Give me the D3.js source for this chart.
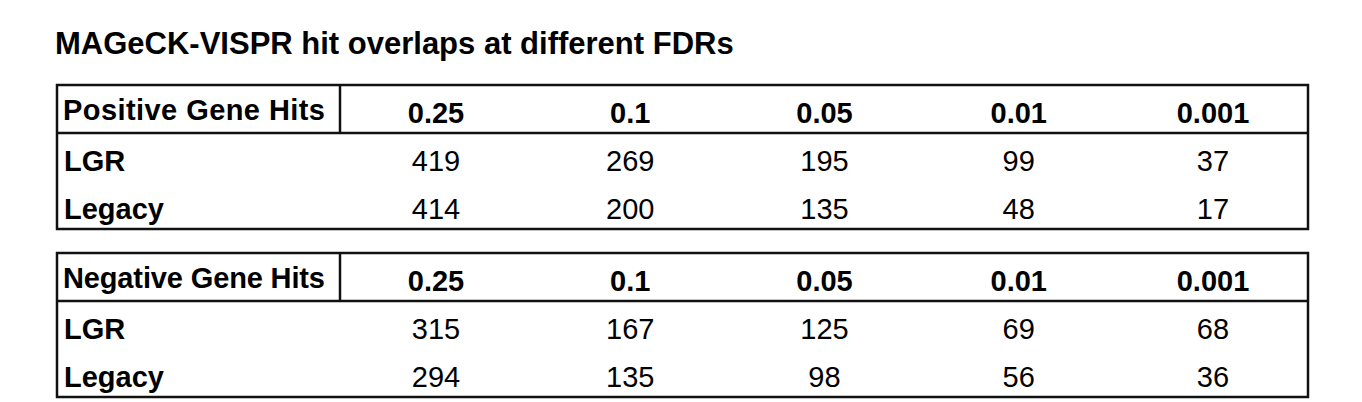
<!DOCTYPE html>
<html><head><meta charset="utf-8">
<script src="https://d3js.org/d3.v7.min.js"></script>
<style>body{margin:0;background:#fff;font-family:"Liberation Sans",Arial,sans-serif}</style>
</head><body>
<script>
var fdrs = ["0.25", "0.1", "0.05", "0.01", "0.001"];
var methods = ["LGR", "Legacy"];
var positiveHits = [[419, 269, 195, 99, 37], [414, 200, 135, 48, 17]];
var negativeHits = [[315, 167, 125, 69, 68], [294, 135, 98, 56, 36]];
var tables = [
  {label: "Positive Gene Hits", rows: positiveHits, top: 85},
  {label: "Negative Gene Hits", rows: negativeHits, top: 253}
];

var svg = d3.select("body").append("svg").attr("width", 1362).attr("height", 402);
svg.append("text").attr("x", 55).attr("y", 54).attr("font-size", 31).attr("font-weight", "bold")
  .text("MAGeCK-VISPR hit overlaps at different FDRs");

var x = d3.scalePoint().domain(fdrs).range([436, 1213]);
var left = 57, right = 1308, divider = 340;

tables.forEach(function(t) {
  var g = svg.append("g");
  var bottom = t.top + 144;
  g.append("rect").attr("x", left).attr("y", t.top).attr("width", right - left).attr("height", bottom - t.top)
    .attr("fill", "none").attr("stroke", "#111").attr("stroke-width", 2.5);
  g.append("line").attr("x1", left).attr("x2", right).attr("y1", t.top + 48).attr("y2", t.top + 48)
    .attr("stroke", "#111").attr("stroke-width", 2.5);
  g.append("line").attr("x1", divider).attr("x2", divider).attr("y1", t.top).attr("y2", t.top + 48)
    .attr("stroke", "#111").attr("stroke-width", 2.5);
  var cy = function(k, i) { return k === "head" ? t.top + 25 : t.top + 76 + i * 48; };
  g.append("text").attr("x", 63).attr("y", cy("head")).attr("dy", "0.35em")
    .attr("font-size", 29).attr("font-weight", "bold").attr("textLength", 262).text(t.label);
  g.selectAll(".fdr").data(fdrs).join("text").attr("x", d => x(d)).attr("y", cy("head") + 3).attr("dy", "0.35em")
    .attr("text-anchor", "middle").attr("font-size", 29).attr("font-weight", "bold").text(d => d);
  methods.forEach(function(m, i) {
    g.append("text").attr("x", 64).attr("y", cy(m, i)).attr("dy", "0.35em")
      .attr("font-size", 29).attr("font-weight", "bold").text(m);
    g.selectAll(".v" + i).data(t.rows[i]).join("text").attr("x", (d, j) => x(fdrs[j])).attr("y", cy(m, i))
      .attr("dy", "0.35em").attr("text-anchor", "middle").attr("font-size", 29).text(d => d);
  });
});
</script>
</body></html>
